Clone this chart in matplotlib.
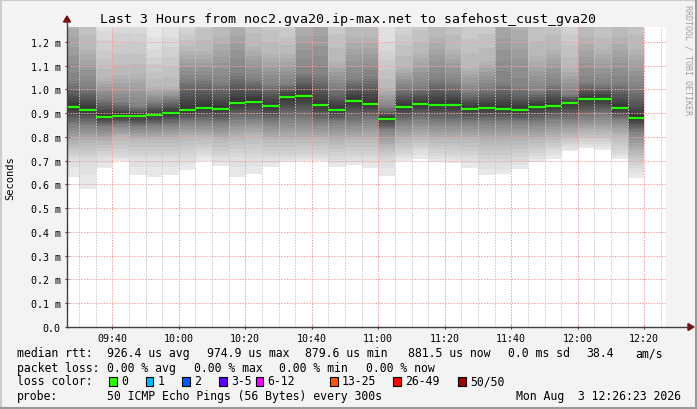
import numpy as np
import matplotlib
matplotlib.use('Agg')
import matplotlib.pyplot as plt
from matplotlib.lines import Line2D
from matplotlib.patches import Rectangle, Polygon

plt.rcParams['lines.scale_dashes'] = False

W, H = 697, 410

# time axis, minutes since midnight (graph runs 09:26:23 .. 12:26:23)
t_start = 9 * 60 + 26 + 23 / 60
t_end = t_start + 180
bin_end = np.arange(570, 741, 5)  # each smoke column ends at these times (09:30 .. 12:20)

# smoke quantiles per column, in ms (ping ranks 1, 3, 8, 15, median, 36, 43, 48, 50 of 50)
rtt_min = [0.633, 0.582, 0.669, 0.700, 0.641, 0.633, 0.641, 0.662, 0.700, 0.679, 0.633, 0.644,
           0.675, 0.695, 0.700, 0.700, 0.675, 0.683, 0.669, 0.637, 0.700, 0.707, 0.695, 0.689,
           0.669, 0.641, 0.644, 0.665, 0.696, 0.707, 0.742, 0.754, 0.745, 0.707, 0.627]
rtt_r3 = [0.71, 0.70, 0.715, 0.715, 0.71, 0.71, 0.71, 0.71, 0.73, 0.71, 0.715, 0.71,
          0.71, 0.71, 0.715, 0.715, 0.705, 0.71, 0.71, 0.70, 0.72, 0.74, 0.72, 0.715,
          0.71, 0.69, 0.69, 0.70, 0.72, 0.74, 0.76, 0.77, 0.77, 0.73, 0.67]
rtt_r8 = [0.77, 0.775, 0.78, 0.80, 0.79, 0.79, 0.79, 0.80, 0.80, 0.79, 0.80, 0.81,
          0.79, 0.79, 0.79, 0.79, 0.78, 0.79, 0.79, 0.76, 0.79, 0.80, 0.79, 0.79,
          0.79, 0.78, 0.78, 0.785, 0.79, 0.80, 0.81, 0.82, 0.82, 0.81, 0.74]
rtt_r15 = [0.85, 0.85, 0.84, 0.85, 0.84, 0.845, 0.85, 0.86, 0.86, 0.855, 0.87, 0.87,
           0.86, 0.87, 0.87, 0.86, 0.86, 0.86, 0.87, 0.83, 0.86, 0.87, 0.86, 0.86,
           0.86, 0.86, 0.86, 0.86, 0.86, 0.87, 0.87, 0.88, 0.89, 0.87, 0.82]
rtt_median = [0.9255, 0.915, 0.886, 0.890, 0.890, 0.894, 0.902, 0.915, 0.923, 0.919, 0.944, 0.949,
              0.932, 0.970, 0.974, 0.936, 0.915, 0.953, 0.940, 0.877, 0.928, 0.940, 0.936, 0.936,
              0.919, 0.923, 0.919, 0.915, 0.928, 0.932, 0.944, 0.961, 0.961, 0.923, 0.881]
rtt_r36 = [1.035, 1.013, 0.964, 0.947, 0.93, 0.947, 0.96, 1.046, 1.046, 1.03, 1.07, 1.046,
           1.024, 1.024, 1.07, 1.06, 1.01, 1.046, 1.057, 0.925, 1.01, 1.013, 1.046, 1.03,
           0.99, 1.01, 1.03, 1.01, 0.995, 1.024, 0.98, 1.03, 1.024, 1.03, 1.01]
rtt_r43 = [1.29, 1.17, 1.048, 1.06, 1.064, 1.01, 1.01, 1.16, 1.16, 1.22, 1.29, 1.18,
           1.15, 1.15, 1.29, 1.35, 1.12, 1.22, 1.22, 1.006, 1.094, 1.15, 1.22, 1.17,
           1.09, 1.12, 1.35, 1.29, 1.14, 1.17, 1.09, 1.22, 1.17, 1.22, 1.17]
rtt_r48 = [1.6, 1.46, 1.247, 1.28, 1.28, 1.17, 1.22, 1.28, 1.40, 1.5, 1.6, 1.46,
           1.4, 1.33, 1.6, 1.7, 1.4, 1.5, 1.5, 1.2, 1.33, 1.4, 1.5, 1.46,
           1.4, 1.4, 1.7, 1.6, 1.46, 1.46, 1.33, 1.5, 1.4, 1.5, 1.46]
rtt_max = [2.2, 2.0, 1.5, 1.6, 1.6, 1.27, 1.5, 1.6, 1.9, 2.0, 2.2, 2.0,
           1.9, 1.8, 2.2, 2.4, 1.9, 2.0, 2.0, 1.5, 1.8, 1.9, 2.0, 2.0,
           1.9, 1.9, 2.4, 2.2, 2.0, 2.0, 1.8, 2.0, 1.9, 2.0, 2.0]
ranks = [1, 3, 8, 15, 25.5, 36, 43, 48, 50]

x_labels = ['09:40', '10:00', '10:20', '10:40', '11:00', '11:20', '11:40', '12:00', '12:20']
x_label_pos = [580, 600, 620, 640, 660, 680, 700, 720, 740]

loss_labels = ['0', '1', '2', '3-5', '6-12', '13-25', '26-49', '50/50']
loss_colors = ['#26ff00', '#00b8ff', '#0059ff', '#5e00ff', '#ee00ff', '#ff5500', '#ff0000', '#a00000']
loss_box_x = [109.0, 145.7, 182.3, 219.0, 255.7, 330.0, 393.3, 458.3]


def fx(px):
    return px / W


def fy(py):
    return 1 - py / H


mono = 'DejaVu Sans Mono'
fig = plt.figure(figsize=(W / 100, H / 100), dpi=100)
fig.set_facecolor('#f3f3f3')

ax = fig.add_axes([fx(67), fy(328), fx(665.5) - fx(67), fy(28) - fy(328)])
ax.set_facecolor('white')
ax.set_xlim(t_start, t_end)
ax.set_ylim(0, 1.263)

# smoke, drawn the smokeping way: outer ping pairs light, inner pairs dark
quant = np.array([rtt_min, rtt_r3, rtt_r8, rtt_r15, rtt_median, rtt_r36, rtt_r43, rtt_r48, rtt_max])
pings = np.array([np.interp(np.arange(1, 51), ranks, quant[:, j]) for j in range(quant.shape[1])])
x0 = np.maximum(bin_end - 5, t_start)
widths = bin_end - x0
for i in range(1, 26):
    g = int(190 / 25 * (25 - i)) + 50
    lo = pings[:, i - 1]
    hi = pings[:, 50 - i]
    ax.bar(x0, hi - lo, width=widths, bottom=lo, align='edge',
           color='#%02x%02x%02x' % (g, g, g), linewidth=0, zorder=1)

# grid, small dots
dots = (0, (1.0, 1.0))
for t in np.arange(570, t_end, 5):
    if (t - 580) % 20:
        ax.axvline(t, color='#c8c8c8', lw=0.72, ls=dots, zorder=2)
for t in np.arange(580, t_end, 20):
    ax.axvline(t, color='#f4a0a0', lw=0.72, ls=dots, zorder=2)
for v in np.arange(0.1, 1.25, 0.1):
    ax.axhline(v, color='#f4a0a0', lw=0.72, ls=dots, zorder=2)

# median rtt
ax.hlines(rtt_median, x0, bin_end, color=loss_colors[0], lw=1.6, zorder=3)

for s in ax.spines.values():
    s.set_visible(False)
ax.set_xticks(x_label_pos)
ax.set_xticklabels(x_labels, fontfamily=mono, fontsize=7.2)
yt = np.round(np.arange(0, 1.25, 0.1), 1)
ax.set_yticks(yt)
ax.set_yticklabels(['0.0'] + ['%.1f m' % v for v in yt[1:]], fontfamily=mono, fontsize=7.2)
ax.tick_params(length=3, width=0.8, color='#404040', direction='inout', pad=3)

# axes with arrows
fig.add_artist(Line2D([fx(67), fx(688)], [fy(328), fy(328)], color='#404040', lw=1))
fig.add_artist(Line2D([fx(67), fx(67)], [fy(328), fy(22)], color='#404040', lw=1))
fig.add_artist(Polygon([[fx(688), fy(324.5)], [fx(688), fy(331.5)], [fx(694), fy(328)]],
                       closed=True, color='#7a1010', transform=fig.transFigure))
fig.add_artist(Polygon([[fx(63.5), fy(23)], [fx(70.5), fy(23)], [fx(67), fy(17)]],
                       closed=True, color='#7a1010', transform=fig.transFigure))

# frame
fig.add_artist(Line2D([0, 1], [fy(1), fy(1)], color='#cccccc', lw=1.5))
fig.add_artist(Line2D([fx(1), fx(1)], [0, 1], color='#cccccc', lw=1.5))
fig.add_artist(Line2D([0, 1], [fy(409), fy(409)], color='#9a9a9a', lw=1.5))
fig.add_artist(Line2D([fx(696), fx(696)], [0, 1], color='#9a9a9a', lw=1.5))

fig.text(fx(348), fy(19), 'Last 3 Hours from noc2.gva20.ip-max.net to safehost_cust_gva20',
         ha='center', va='center', fontfamily=mono, fontsize=9.5, color='#000000')
fig.text(fx(10), fy(178), 'Seconds', rotation=90, ha='center', va='center',
         fontfamily=mono, fontsize=7.5)
fig.text(fx(688), fy(5), 'RRDTOOL / TOBI OETIKER', rotation=-90, ha='center', va='top',
         fontfamily=mono, fontsize=6, color='#a0a0a0')


def legend_text(px, py, s, **kw):
    fig.text(fx(px), fy(py), s, ha=kw.pop('ha', 'left'), va='center',
             fontfamily=mono, fontsize=8.3, **kw)


legend_text(16.7, 354, 'median rtt:')
legend_text(107.3, 354, '926.4 us avg')
legend_text(207.3, 354, '974.9 us max')
legend_text(305.0, 354, '879.6 us min')
legend_text(407.7, 354, '881.5 us now')
legend_text(507.7, 354, '0.0 ms sd')
legend_text(586.7, 354, '38.4')
legend_text(635.7, 354, 'am/s')

legend_text(16.7, 368.3, 'packet loss:')
legend_text(107.3, 368.3, '0.00 % avg')
legend_text(194.0, 368.3, '0.00 % max')
legend_text(279.3, 368.3, '0.00 % min')
legend_text(365.7, 368.3, '0.00 % now')

legend_text(16.7, 382, 'loss color:')
for bx, lab, col in zip(loss_box_x, loss_labels, loss_colors):
    fig.add_artist(Rectangle((fx(bx), fy(386.5)), fx(7.5), 9 / H, facecolor=col,
                             edgecolor='black', lw=0.8, transform=fig.transFigure))
    legend_text(bx + 12, 382, lab)

legend_text(16.7, 396.3, 'probe:')
legend_text(107.3, 396.3, '50 ICMP Echo Pings (56 Bytes) every 300s')
legend_text(680.7, 396.3, 'Mon Aug  3 12:26:23 2026', ha='right')

fig.savefig('out.png', dpi=100, facecolor=fig.get_facecolor())
